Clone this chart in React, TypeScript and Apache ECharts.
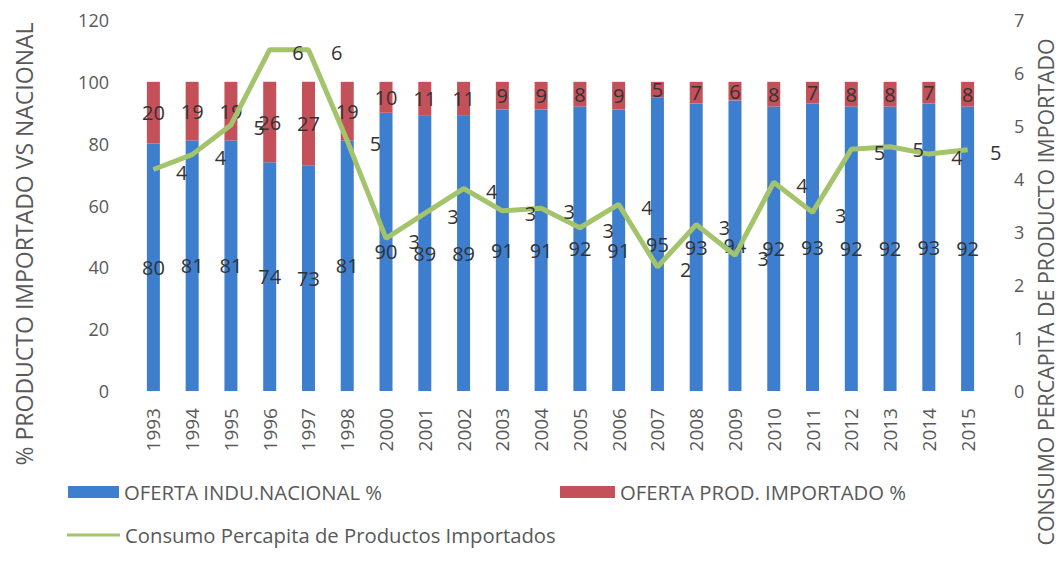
import React, { useEffect, useRef } from "react";
import * as echarts from "echarts";

const categories = ["1993","1994","1995","1996","1997","1998","2000","2001","2002","2003","2004","2005","2006","2007","2008","2009","2010","2011","2012","2013","2014","2015"];
const nacional = [80,81,81,74,73,81,90,89,89,91,91,92,91,95,93,94,92,93,92,92,93,92];
const importado = [20,19,19,26,27,19,10,11,11,9,9,8,9,5,7,6,8,7,8,8,7,8];
const consumo = [4.18,4.46,5.02,6.44,6.44,4.72,2.88,3.35,3.82,3.4,3.45,3.08,3.52,2.34,3.14,2.56,3.94,3.37,4.56,4.61,4.47,4.55];

const seriesNames = ["OFERTA INDU.NACIONAL %", "OFERTA PROD. IMPORTADO %", "Consumo Percapita de Productos Importados"];
const leftTitle = "% PRODUCTO IMPORTADO VS NACIONAL";
const rightTitle = "CONSUMO PERCAPITA DE PRODUCTO IMPORTADO";

const FONT = "Open Sans";
const BLUE = "#3E7ECF";
const RED = "#C4505A";
const GREEN = "#A4C46C";
const TXT = "#333333";
const AXT = "#595959";

export default function App() {
  const ref = useRef<HTMLDivElement>(null);
  useEffect(() => {
    if (!ref.current) return;
    const chart = echarts.init(ref.current, null, { renderer: "svg" });
    const legendText = { fontFamily: FONT, fontSize: 20.3, color: AXT };
    chart.setOption({
      animation: false,
      backgroundColor: "#ffffff",
      textStyle: { fontFamily: FONT },
      grid: { left: 134, right: 71, top: 20, bottom: 174, containLabel: false },
      legend: [
        {
          data: [seriesNames[0]], left: 63, top: 477, itemWidth: 51, itemHeight: 12, itemGap: 4,
          textStyle: legendText, icon: "rect",
        },
        {
          data: [seriesNames[1]], left: 555, top: 477, itemWidth: 55, itemHeight: 12,
          textStyle: legendText, icon: "rect",
        },
        {
          data: [seriesNames[2]], left: 62, top: 520, itemWidth: 53, itemHeight: 3,
          textStyle: legendText, icon: "rect",
        },
      ],
      xAxis: {
        type: "category",
        data: categories,
        axisLine: { show: false },
        axisTick: { show: false },
        axisLabel: { rotate: 90, fontFamily: FONT, fontSize: 19, color: AXT, margin: 17 },
      },
      yAxis: [
        {
          type: "value", min: 0, max: 120, interval: 20,
          splitLine: { show: false }, axisLine: { show: false }, axisTick: { show: false },
          axisLabel: { fontFamily: FONT, fontSize: 18, color: AXT, margin: 25 },
        },
        {
          type: "value", min: 0, max: 7, interval: 1,
          splitLine: { show: false }, axisLine: { show: false }, axisTick: { show: false },
          axisLabel: { fontFamily: FONT, fontSize: 18, color: AXT, margin: 27 },
        },
      ],
      graphic: [
        {
          type: "text", x: 24, y: 244, rotation: Math.PI / 2,
          style: { text: leftTitle, fontFamily: FONT, fontSize: 23, fill: AXT, align: "center", verticalAlign: "middle" },
        },
        {
          type: "text", x: 1045, y: 292, rotation: Math.PI / 2,
          style: { text: rightTitle, fontFamily: FONT, fontSize: 21.3, fill: AXT, align: "center", verticalAlign: "middle" },
        },
      ],
      series: [
        {
          name: seriesNames[0], type: "bar", stack: "s", data: nacional, barWidth: 13,
          itemStyle: { color: BLUE },
          label: { show: true, position: "inside", fontFamily: FONT, fontSize: 20, color: TXT },
        },
        {
          name: seriesNames[1], type: "bar", stack: "s", data: importado, barWidth: 13,
          itemStyle: { color: RED },
          label: { show: true, position: "inside", fontFamily: FONT, fontSize: 20, color: TXT },
        },
        {
          name: seriesNames[2], type: "line", yAxisIndex: 1, data: consumo,
          symbol: "circle", symbolSize: 1, showSymbol: true,
          lineStyle: { color: GREEN, width: 5 }, itemStyle: { color: GREEN },
          label: {
            show: true, position: "right", distance: 22, offset: [0, 3], fontFamily: FONT, fontSize: 20, color: TXT,
            formatter: (p: any) => String(Math.round(p.value)),
          },
        },
      ],
    });
    return () => chart.dispose();
  }, []);
  return <div ref={ref} style={{ width: 1058, height: 565, position: "absolute", left: 0, top: 0 }} />;
}
